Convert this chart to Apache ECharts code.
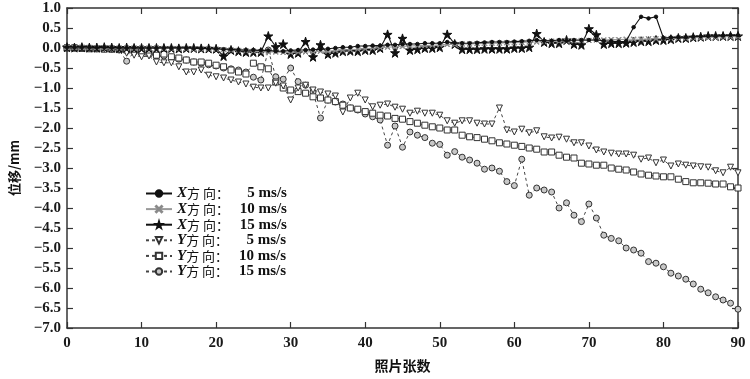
<!DOCTYPE html>
<html><head><meta charset="utf-8">
<script src="https://cdn.jsdelivr.net/npm/echarts@6/dist/echarts.min.js"></script>
<style>html,body{margin:0;padding:0;background:#fff}#c{width:750px;height:379px}</style>
</head><body><div id="c"></div>
<script>
// photo numbers (x) 0..90
const photoNo = Array.from({length: 91}, (_, i) => i);
const xTickLabels = [0,10,20,30,40,50,60,70,80,90];
const yRange = [-7.0, 1.0];

const seriesNames = ['X5', 'X10', 'X15', 'Y5', 'Y10', 'Y15'];
const legendDir = ['X', 'X', 'X', 'Y', 'Y', 'Y'];
const legendSpeed = ['5 ms/s', '10 ms/s', '15 ms/s', '5 ms/s', '10 ms/s', '15 ms/s'];

const x5 = [0.02,0.02,0.02,0.02,0.01,0.02,0.01,0.01,0.00,0.01,
  0.00,0.00,0.00,0.00,0.00,0.00,0.00,-0.01,-0.01,-0.02,
  -0.02,-0.03,-0.03,-0.05,-0.05,-0.05,-0.06,-0.06,-0.08,-0.08,
  -0.06,-0.05,-0.05,-0.04,-0.03,-0.02,0.00,0.02,0.02,0.05,
  0.05,0.06,0.06,0.08,0.08,0.10,0.10,0.10,0.12,0.12,
  0.12,0.15,0.13,0.12,0.12,0.13,0.14,0.15,0.15,0.15,
  0.16,0.17,0.18,0.20,0.18,0.18,0.20,0.18,0.20,0.20,
  0.20,0.20,0.18,0.17,0.16,0.17,0.52,0.78,0.74,0.78,
  0.25,0.26,0.27,0.27,0.28,0.29,0.30,0.30,0.31,0.32,0.32];
const x10 = [0.01,0.01,0.01,0.01,0.01,0.01,0.00,0.00,0.00,0.00,
  0.00,0.00,0.00,-0.01,-0.01,-0.01,-0.01,-0.02,-0.02,-0.02,
  -0.03,-0.04,-0.05,-0.06,-0.07,-0.08,-0.09,-0.10,-0.10,-0.11,
  -0.11,-0.10,-0.10,-0.09,-0.08,-0.08,-0.06,-0.05,-0.04,-0.03,
  -0.02,0.00,0.01,0.02,0.03,0.04,0.05,0.06,0.06,0.07,
  0.08,0.09,0.09,0.10,0.10,0.11,0.11,0.12,0.12,0.13,
  0.13,0.14,0.15,0.15,0.16,0.17,0.17,0.18,0.18,0.19,
  0.19,0.20,0.20,0.21,0.21,0.22,0.22,0.22,0.23,0.23,
  0.24,0.24,0.25,0.25,0.26,0.26,0.27,0.27,0.28,0.28,0.28];
const x15 = [0.02,0.01,0.02,0.01,0.01,0.02,0.01,0.00,0.01,0.00,
  0.00,0.00,0.00,0.00,0.00,-0.01,0.00,0.00,-0.01,-0.01,
  -0.02,-0.20,-0.05,-0.08,-0.10,-0.10,-0.10,0.30,0.03,0.10,
  -0.15,-0.12,0.16,-0.22,0.08,-0.15,-0.12,-0.08,-0.07,-0.08,
  -0.05,-0.05,0.00,0.34,-0.12,0.24,-0.05,-0.03,0.00,0.00,
  0.02,0.34,0.10,-0.03,-0.03,-0.03,-0.02,-0.02,-0.02,-0.02,
  0.00,0.00,0.02,0.36,0.15,0.12,0.12,0.20,0.10,0.08,
  0.48,0.33,0.10,0.12,0.12,0.13,0.15,0.17,0.17,0.20,
  0.20,0.22,0.25,0.25,0.27,0.28,0.30,0.30,0.30,0.30,0.30];
const y5 = [0.00,0.00,-0.01,-0.01,-0.02,-0.02,-0.03,-0.05,-0.13,-0.18,
  -0.22,-0.20,-0.35,-0.37,-0.37,-0.47,-0.60,-0.60,-0.55,-0.68,
  -0.72,-0.75,-0.80,-0.85,-0.90,-0.98,-1.00,-1.00,-0.88,-0.95,
  -1.30,-1.00,-0.93,-1.05,-1.10,-1.15,-1.20,-1.60,-1.25,-1.13,
  -1.30,-1.47,-1.43,-1.40,-1.48,-1.53,-1.63,-1.58,-1.63,-1.63,
  -1.68,-1.82,-1.88,-1.82,-1.82,-1.88,-1.90,-1.90,-1.50,-2.05,
  -2.10,-2.03,-2.12,-2.07,-2.22,-2.25,-2.23,-2.28,-2.37,-2.37,
  -2.45,-2.55,-2.60,-2.63,-2.65,-2.65,-2.68,-2.78,-2.75,-2.87,
  -2.80,-2.95,-2.90,-2.93,-2.95,-2.97,-2.98,-3.07,-3.12,-2.98,-3.12];
const y10 = [0.00,0.00,-0.01,-0.02,-0.02,-0.03,-0.03,-0.04,-0.05,-0.07,
  -0.10,-0.13,-0.18,-0.15,-0.22,-0.25,-0.30,-0.35,-0.35,-0.38,
  -0.43,-0.47,-0.55,-0.60,-0.65,-0.38,-0.47,-0.52,-0.85,-1.00,
  -1.05,-1.09,-1.13,-1.22,-1.25,-1.30,-1.34,-1.43,-1.50,-1.53,
  -1.59,-1.63,-1.68,-1.70,-1.76,-1.78,-1.84,-1.88,-1.93,-1.97,
  -2.00,-2.05,-2.05,-2.18,-2.22,-2.24,-2.28,-2.32,-2.37,-2.40,
  -2.43,-2.46,-2.50,-2.53,-2.60,-2.60,-2.68,-2.73,-2.75,-2.88,
  -2.90,-2.93,-2.93,-3.00,-3.03,-3.05,-3.10,-3.15,-3.18,-3.20,
  -3.22,-3.22,-3.28,-3.34,-3.37,-3.37,-3.38,-3.40,-3.40,-3.47,-3.50];
const y15 = [0.00,0.00,-0.01,-0.01,-0.02,-0.02,-0.03,-0.05,-0.33,-0.10,
  -0.12,-0.15,-0.20,-0.20,-0.25,-0.28,-0.30,-0.35,-0.38,-0.42,
  -0.45,-0.50,-0.52,-0.55,-0.60,-0.73,-0.80,-0.05,-0.72,-0.78,
  -0.50,-0.84,-0.93,-1.10,-1.75,-1.30,-1.35,-1.40,-1.50,-1.55,
  -1.65,-1.72,-1.80,-2.43,-1.95,-2.48,-2.10,-2.18,-2.24,-2.38,
  -2.41,-2.68,-2.59,-2.73,-2.80,-2.88,-3.03,-3.00,-3.08,-3.34,
  -3.44,-2.78,-3.68,-3.50,-3.55,-3.60,-4.00,-3.87,-4.18,-4.34,
  -3.90,-4.25,-4.68,-4.76,-4.82,-5.00,-5.05,-5.13,-5.34,-5.38,
  -5.47,-5.63,-5.70,-5.78,-5.90,-6.03,-6.12,-6.22,-6.30,-6.38,-6.53];

const values = [x5, x10, x15, y5, y10, y15];

const STAR = 'path://M50,0 L61,35 L98,35 L68,57 L79,91 L50,70 L21,91 L32,57 L2,35 L39,35 Z';
const CROSS = 'path://M0,1 L1,0 L5,4 L9,0 L10,1 L6,5 L10,9 L9,10 L5,6 L1,10 L0,9 L4,5 Z';

const styles = [
  {symbol: 'circle', size: 3.5, color: '#111', line: '#111', width: 1.1, type: 'solid', border: '#111'},
  {symbol: CROSS, size: 5, color: '#8a8a8a', line: '#9a9a9a', width: 1.1, type: 'solid', border: '#8a8a8a'},
  {symbol: STAR, size: 9, color: '#111', line: '#111', width: 1.1, type: 'solid', border: '#111'},
  {symbol: 'triangle', size: 6, color: '#fff', line: '#444', width: 1, type: [3, 3], border: '#333', rotate: 180},
  {symbol: 'rect', size: 6, color: '#fff', line: '#444', width: 1, type: [3, 3], border: '#333'},
  {symbol: 'circle', size: 6, color: '#c8c8c8', line: '#444', width: 1, type: [3, 3], border: '#333'}
];

const series = seriesNames.map((n, k) => ({
  name: n,
  type: 'line',
  xAxisIndex: 0, yAxisIndex: 0,
  data: values[k].map((v, i) => [photoNo[i], v]),
  symbol: styles[k].symbol,
  symbolSize: styles[k].size,
  symbolRotate: styles[k].rotate || 0,
  showAllSymbol: true,
  animation: false,
  z: 10 - k,
  lineStyle: {color: styles[k].line, width: styles[k].width, type: styles[k].type},
  itemStyle: {color: styles[k].color, borderColor: styles[k].border, borderWidth: 1}
}));

const fmtY = v => (v < 0 ? '\u2212' : '') + Math.abs(v).toFixed(1);
const labelFont = {fontFamily: 'Liberation Serif', fontWeight: 'bold', fontSize: 15, color: '#1a1a1a'};
const axisLine = {show: true, onZero: false, lineStyle: {color: '#333', width: 1.5}};
const tick = {show: true, inside: true, length: 6, lineStyle: {color: '#333', width: 1.2}};

const chart = echarts.init(document.getElementById('c'), null, {renderer: 'canvas'});
chart.setOption({
  backgroundColor: '#fff',
  animation: false,
  grid: {left: 67, right: 12, top: 8, bottom: 51, containLabel: false},
  legend: {
    orient: 'vertical', left: 140, top: 181,
    itemWidth: 26, itemHeight: 8, itemGap: 0.6,
    data: seriesNames,
    formatter: name => {
      const k = seriesNames.indexOf(name);
      return '{d|' + legendDir[k] + '}{c|方 向：}{s|' + legendSpeed[k] + '}';
    },
    textStyle: {
      lineHeight: 14,
      rich: {
        d: {fontFamily: 'Liberation Serif', fontStyle: 'italic', fontWeight: 'bold', fontSize: 15, color: '#111', lineHeight: 14},
        c: {fontFamily: 'Noto Sans CJK SC', fontSize: 13, color: '#111', lineHeight: 14},
        s: {fontFamily: 'Liberation Serif', fontWeight: 'bold', fontSize: 15, color: '#111', width: 58, align: 'right', lineHeight: 14}
      }
    }
  },
  xAxis: [{
    type: 'value', min: 0, max: 90, interval: 10, position: 'bottom',
    name: '照片张数', nameLocation: 'middle', nameGap: 31,
    nameTextStyle: {fontFamily: 'Noto Sans CJK SC', fontWeight: 'bold', fontSize: 14, color: '#111'},
    axisLine: axisLine, axisTick: tick,
    axisLabel: Object.assign({margin: 8, formatter: v => xTickLabels.includes(v) ? String(v) : ''}, labelFont),
    splitLine: {show: false}
  }, {
    type: 'value', min: 0, max: 90, interval: 10, position: 'top',
    axisLine: axisLine, axisTick: tick,
    axisLabel: {show: false}, splitLine: {show: false}
  }],
  yAxis: [{
    type: 'value', min: yRange[0], max: yRange[1], interval: 0.5, position: 'left',
    name: '位移/mm', nameLocation: 'middle', nameGap: 46, nameRotate: 90,
    nameTextStyle: {fontFamily: 'Noto Sans CJK SC', fontWeight: 'bold', fontSize: 13, color: '#111'},
    axisLine: axisLine, axisTick: tick,
    axisLabel: Object.assign({margin: 6, formatter: fmtY}, labelFont),
    splitLine: {show: false}
  }, {
    type: 'value', min: yRange[0], max: yRange[1], interval: 0.5, position: 'right',
    axisLine: axisLine, axisTick: tick,
    axisLabel: {show: false}, splitLine: {show: false}
  }],
  series: series
});
</script>
</body></html>
